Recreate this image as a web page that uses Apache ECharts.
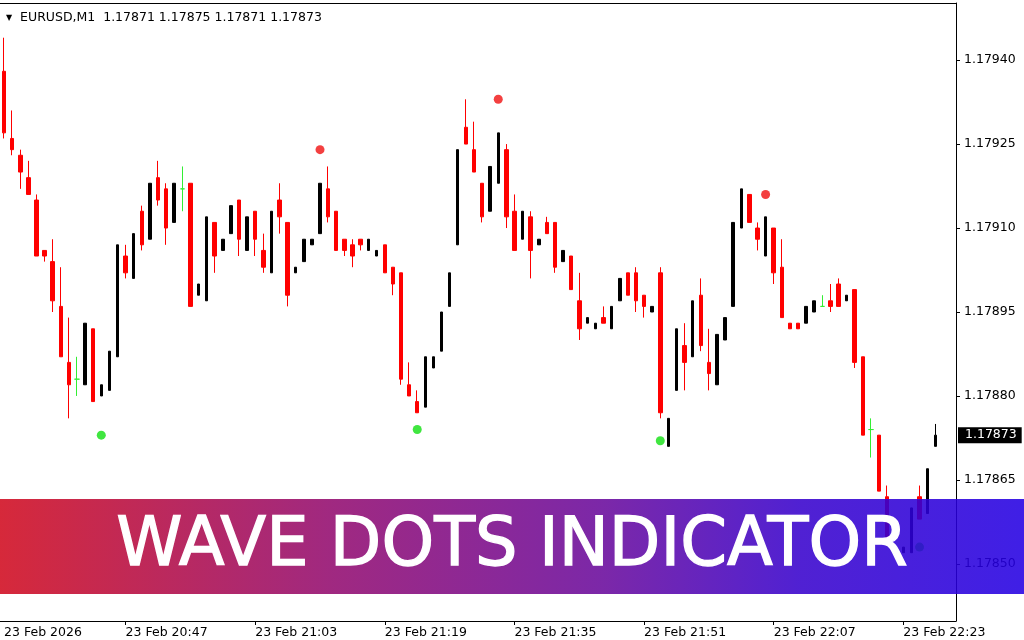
<!DOCTYPE html>
<html><head><meta charset="utf-8">
<script src="https://cdn.jsdelivr.net/npm/echarts@6/dist/echarts.min.js"></script>
<style>html,body{margin:0;padding:0;background:#fff}#c{width:1024px;height:640px}</style>
</head><body><div id="c"></div>
<script>
const symbolName = 'EURUSD,M1';
const times = [
'20:32','20:33','20:34','20:35','20:36','20:37','20:38','20:39','20:40','20:41','20:42','20:43','20:44','20:45','20:46','20:47','20:48','20:49','20:50','20:51','20:52','20:53','20:54','20:55','20:56','20:57','20:58','20:59',
'21:00','21:01','21:02','21:03','21:04','21:05','21:06','21:07','21:08','21:09','21:10','21:11','21:12','21:13','21:14','21:15','21:16','21:17','21:18','21:19','21:20','21:21','21:22','21:23','21:24','21:25','21:26','21:27','21:28','21:29',
'21:30','21:31','21:32','21:33','21:34','21:35','21:36','21:37','21:38','21:39','21:40','21:41','21:42','21:43','21:44','21:45','21:46','21:47','21:48','21:49','21:50','21:51','21:52','21:53','21:54','21:55','21:56','21:57','21:58','21:59',
'22:00','22:01','22:02','22:03','22:04','22:05','22:06','22:07','22:08','22:09','22:10','22:11','22:12','22:13','22:14','22:15','22:16','22:17','22:18','22:19','22:20','22:21','22:22','22:23','22:24','22:25','22:26','22:27','22:28','22:29'];
const opens = [
1.17938,1.17926,1.17923,1.17919,1.17915,1.17906,1.17904,1.17896,1.17886,1.17883,
1.17882,1.17892,1.17880,1.17881,1.17887,1.17905,1.17901,1.17913,1.17908,1.17919,
1.17917,1.17911,1.17917,1.17918,1.17898,1.17897,1.17911,1.17906,1.17909,1.17915,
1.17906,1.17913,1.17906,1.17902,1.17915,1.17911,1.17902,1.17904,1.17907,1.17909,
1.17917,1.17913,1.17908,1.17907,1.17908,1.17906,1.17905,1.17907,1.17903,1.17902,
1.17882,1.17879,1.17878,1.17885,1.17888,1.17896,1.17907,1.17928,1.17924,1.17918,
1.17913,1.17918,1.17924,1.17913,1.17908,1.17912,1.17907,1.17911,1.17911,1.17904,
1.17905,1.17897,1.17893,1.17892,1.17894,1.17892,1.17897,1.17902,1.17902,1.17898,
1.17895,1.17902,1.17871,1.17881,1.17889,1.17887,1.17898,1.17886,1.17882,1.17890,
1.17896,1.17910,1.17916,1.17910,1.17905,1.17910,1.17903,1.17893,1.17893,1.17893,
1.17895,1.17896,1.17897,1.17900,1.17897,1.17899,1.17887,1.17874,1.17873,1.17862,
1.17855,1.17852,1.17852,1.17862,1.17859,1.17871];
const highs = [
1.17944,1.17931,1.17924,1.17922,1.17916,1.17906,1.17908,1.17903,1.17894,1.17887,
1.17893,1.17892,1.17882,1.17888,1.17907,1.17907,1.17909,1.17914,1.17918,1.17922,
1.17918,1.17918,1.17921,1.17918,1.17900,1.17912,1.17911,1.17908,1.17914,1.17915,
1.17912,1.17913,1.17909,1.17913,1.17918,1.17911,1.17903,1.17908,1.17908,1.17918,
1.17921,1.17913,1.17908,1.17908,1.17908,1.17908,1.17906,1.17907,1.17903,1.17902,
1.17886,1.17881,1.17887,1.17887,1.17895,1.17902,1.17924,1.17933,1.17929,1.17918,
1.17921,1.17927,1.17925,1.17916,1.17913,1.17913,1.17908,1.17912,1.17911,1.17906,
1.17905,1.17902,1.17894,1.17893,1.17896,1.17896,1.17901,1.17902,1.17903,1.17898,
1.17896,1.17903,1.17876,1.17892,1.17893,1.17897,1.17901,1.17892,1.17891,1.17894,
1.17911,1.17917,1.17916,1.17911,1.17912,1.17910,1.17908,1.17893,1.17893,1.17896,
1.17897,1.17898,1.17900,1.17901,1.17898,1.17899,1.17887,1.17876,1.17873,1.17864,
1.17856,1.17853,1.17860,1.17864,1.17867,1.17875];
const lows = [
1.17926,1.17923,1.17917,1.17916,1.17905,1.17904,1.17895,1.17887,1.17876,1.17880,
1.17882,1.17879,1.17880,1.17881,1.17887,1.17901,1.17901,1.17906,1.17908,1.17914,
1.17907,1.17911,1.17913,1.17896,1.17898,1.17897,1.17902,1.17906,1.17909,1.17905,
1.17906,1.17905,1.17902,1.17902,1.17909,1.17896,1.17902,1.17904,1.17907,1.17909,
1.17911,1.17906,1.17905,1.17903,1.17906,1.17906,1.17905,1.17902,1.17898,1.17882,
1.17880,1.17877,1.17878,1.17885,1.17888,1.17896,1.17907,1.17925,1.17920,1.17911,
1.17913,1.17918,1.17910,1.17906,1.17908,1.17901,1.17907,1.17909,1.17902,1.17904,
1.17899,1.17890,1.17893,1.17892,1.17893,1.17892,1.17897,1.17898,1.17895,1.17894,
1.17895,1.17876,1.17871,1.17881,1.17881,1.17887,1.17888,1.17881,1.17882,1.17890,
1.17896,1.17910,1.17911,1.17906,1.17905,1.17900,1.17894,1.17892,1.17892,1.17893,
1.17895,1.17896,1.17895,1.17896,1.17897,1.17885,1.17873,1.17869,1.17863,1.17854,
1.17855,1.17852,1.17852,1.17858,1.17859,1.17871];
const closes = [
1.17927,1.17924,1.17920,1.17916,1.17905,1.17905,1.17897,1.17887,1.17882,1.17883,
1.17893,1.17879,1.17882,1.17888,1.17907,1.17902,1.17909,1.17907,1.17918,1.17915,
1.17910,1.17918,1.17917,1.17896,1.17900,1.17912,1.17905,1.17908,1.17914,1.17908,
1.17912,1.17908,1.17903,1.17913,1.17912,1.17898,1.17903,1.17908,1.17908,1.17918,
1.17912,1.17906,1.17906,1.17905,1.17907,1.17908,1.17906,1.17902,1.17900,1.17883,
1.17880,1.17877,1.17887,1.17887,1.17895,1.17902,1.17924,1.17925,1.17920,1.17912,
1.17921,1.17927,1.17912,1.17906,1.17913,1.17906,1.17908,1.17909,1.17903,1.17906,
1.17899,1.17892,1.17894,1.17893,1.17893,1.17896,1.17901,1.17898,1.17897,1.17896,
1.17896,1.17877,1.17876,1.17892,1.17886,1.17897,1.17889,1.17884,1.17891,1.17894,
1.17911,1.17917,1.17911,1.17908,1.17912,1.17902,1.17894,1.17892,1.17892,1.17896,
1.17897,1.17896,1.17896,1.17896,1.17898,1.17886,1.17873,1.17874,1.17863,1.17854,
1.17856,1.17853,1.17860,1.17858,1.17867,1.17873];
const upDotTimes = ['20:44','21:23','21:53','22:25'];
const upDotValues = [1.17873,1.17874,1.17872,1.17853];
const downDotTimes = ['21:11','21:33','22:06'];
const downDotValues = [1.17924,1.17933,1.17916];
const xLabelTimes = ['20:32','20:47','21:03','21:19','21:35','21:51','22:07','22:23'];
const xLabelTexts = ['23 Feb 2026','23 Feb 20:47','23 Feb 21:03','23 Feb 21:19','23 Feb 21:35','23 Feb 21:51','23 Feb 22:07','23 Feb 22:23'];
const yTickValues = [1.17850,1.17865,1.17880,1.17895,1.17910,1.17925,1.17940];
const bannerText = 'WAVE DOTS INDICATOR';

const FONT = 'DejaVu Sans';
const FS = 12.5;
const Y_MIN = 1.178398, Y_MAX = 1.179502;
const empty = ['-','-','-','-'];
const bear = [], bull = [], doji = [];
for (let i = 0; i < opens.length; i++) {
  const item = [opens[i], closes[i], lows[i], highs[i]];
  if (closes[i] < opens[i]) { bear.push(item); bull.push(empty); doji.push(empty); }
  else if (closes[i] > opens[i]) { bull.push(item); bear.push(empty); doji.push(empty); }
  else { doji.push(item); bear.push(empty); bull.push(empty); }
}
const labelMap = {};
xLabelTimes.forEach((t, k) => labelMap[t] = xLabelTexts[k]);
const labelIdx = new Set(xLabelTimes.map(t => times.indexOf(t)));
const last = opens.length - 1;
const header = symbolName + '  ' + [opens[last], highs[last], lows[last], closes[last]].map(v => v.toFixed(5)).join(' ');

const chart = echarts.init(document.getElementById('c'), null, {renderer: 'canvas'});
chart.setOption({
  animation: false,
  backgroundColor: '#ffffff',
  title: {
    left: 1, top: 6,
    text: '{t|▼}  ' + header,
    textStyle: {fontFamily: FONT, fontSize: FS, fontWeight: 'normal', color: '#000',
      rich: {t: {fontSize: 8, color: '#000', fontFamily: FONT}}}
  },
  grid: {left: 0, right: 68, top: 3, bottom: 19, containLabel: false, outerBoundsMode: 'none'},
  xAxis: [{
    type: 'category', data: times, boundaryGap: true,
    axisLine: {show: true, lineStyle: {color: '#000', width: 1}},
    axisTick: {show: true, alignWithLabel: true, length: 4, lineStyle: {color: '#000'},
      interval: (i) => labelIdx.has(i) && i !== 0},
    axisLabel: {show: true, interval: (i) => labelIdx.has(i), formatter: (v) => labelMap[v] || '',
      align: 'left', margin: 5, color: '#000', fontFamily: FONT, fontSize: FS},
    splitLine: {show: false}
  }, {
    type: 'category', data: times, position: 'top', boundaryGap: true,
    axisLine: {show: true, lineStyle: {color: '#000', width: 1}},
    axisTick: {show: false}, axisLabel: {show: false}, splitLine: {show: false}
  }],
  yAxis: [{
    type: 'value', position: 'right', min: Y_MIN, max: Y_MAX, scale: true,
    axisLine: {show: true, lineStyle: {color: '#000', width: 1}},
    axisTick: {show: true, length: 4, customValues: yTickValues, lineStyle: {color: '#000'}},
    axisLabel: {show: true, customValues: yTickValues, formatter: (v) => Number(v).toFixed(5),
      margin: 8, color: '#000', fontFamily: FONT, fontSize: FS},
    splitLine: {show: false}
  }, {
    type: 'value', position: 'right', min: Y_MIN, max: Y_MAX, scale: true,
    axisLine: {show: false}, axisTick: {show: false}, splitLine: {show: false},
    axisLabel: {show: true, customValues: [closes[last]], formatter: (v) => Number(v).toFixed(5),
      margin: 2, color: '#fff', backgroundColor: '#000', padding: [2, 5, 1, 7],
      fontFamily: FONT, fontSize: FS}
  }],
  series: [{
    name: 'bear', type: 'candlestick', data: bear, barWidth: 4,
    itemStyle: {color: '#ff0000', color0: '#ff0000', borderColor: '#ff0000', borderColor0: '#ff0000', borderWidth: 1}
  }, {
    name: 'bull', type: 'candlestick', data: bull, barWidth: 3,
    itemStyle: {color: '#000000', color0: '#000000', borderColor: '#000000', borderColor0: '#000000', borderWidth: 1}
  }, {
    name: 'doji', type: 'candlestick', data: doji, barWidth: 5,
    itemStyle: {color: '#33ee33', color0: '#33ee33', borderColor: '#33ee33', borderColor0: '#33ee33', borderWidth: 1}
  }, {
    name: 'up dots', type: 'scatter', symbol: 'circle', symbolSize: 9,
    data: upDotTimes.map((t, k) => [times.indexOf(t), upDotValues[k]]),
    itemStyle: {color: '#10e010'}
  }, {
    name: 'down dots', type: 'scatter', symbol: 'circle', symbolSize: 9,
    data: downDotTimes.map((t, k) => [times.indexOf(t), downDotValues[k]]),
    itemStyle: {color: '#f01010'}
  }],
  graphic: [{
    type: 'rect', z: 100, zlevel: 1, silent: true,
    shape: {x: 0, y: 499, width: 1024, height: 95},
    style: {
      fill: {type: 'linear', x: 0, y: 0, x2: 1, y2: 0, colorStops: [
        {offset: 0, color: '#d00b1f'},
        {offset: 0.32, color: '#930b6e'},
        {offset: 0.59, color: '#690a9c'},
        {offset: 0.78, color: '#3802cc'},
        {offset: 1, color: '#2500e2'}]},
      opacity: 0.88
    }
  }, {
    type: 'text', z: 101, zlevel: 1, silent: true, x: 512, y: 548,
    style: {text: bannerText, fill: '#ffffff', stroke: '#ffffff', lineWidth: 1.3,
      font: 'normal 67px "DejaVu Sans"', align: 'center', verticalAlign: 'middle'}
  }]
});
</script></body></html>
